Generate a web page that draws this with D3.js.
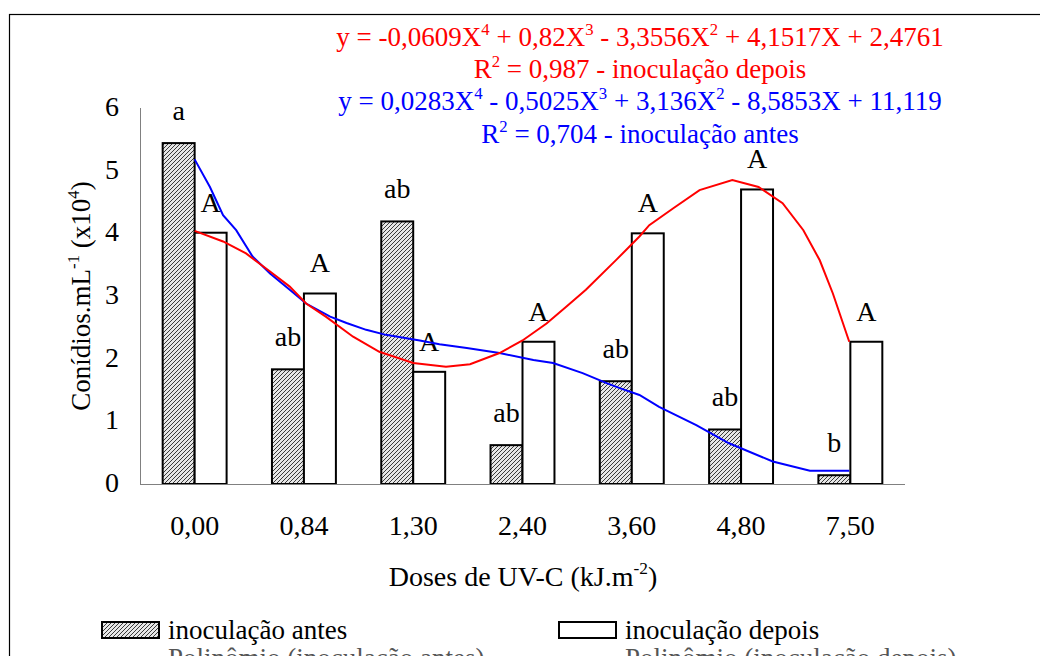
<!DOCTYPE html>
<html>
<head>
<meta charset="utf-8">
<script src="https://cdn.jsdelivr.net/npm/d3@7"></script>
<style>
	body { margin: 0; background: #fff; }
	svg text { font-family: "Liberation Serif", "Times New Roman", serif; }
</style>
</head>
<body>
<svg id="chart" width="1040" height="656"></svg>
<script>
'use strict';

var doses    = ['0,00', '0,84', '1,30', '2,40', '3,60', '4,80', '7,50'];
var antes    = [5.44, 1.83, 4.19, 0.62, 1.64, 0.87, 0.14];
var depois   = [4.01, 3.04, 1.79, 2.27, 4.00, 4.70, 2.27];
var letrasA  = ['a', 'ab', 'ab', 'ab', 'ab', 'ab', 'b'];
var letrasD  = ['A', 'A', 'A', 'A', 'A', 'A', 'A'];
var yTicks   = [0, 1, 2, 3, 4, 5, 6];

// trend lines: [category position, value]
var trendDepois = [
	[0.00, 4.04], [0.26, 3.87], [0.47, 3.68], [0.69, 3.39], [0.87, 3.15],
	[1.02, 2.88], [1.20, 2.67], [1.45, 2.35], [1.69, 2.11], [2.00, 1.93],
	[2.30, 1.87], [2.52, 1.91], [2.79, 2.09], [3.00, 2.29], [3.22, 2.56],
	[3.40, 2.83], [3.58, 3.10], [3.86, 3.58], [4.07, 3.95], [4.16, 4.13],
	[4.38, 4.40], [4.62, 4.69], [4.92, 4.85], [5.16, 4.74], [5.38, 4.48],
	[5.57, 4.05], [5.72, 3.57], [5.84, 3.04], [5.99, 2.27]
];
var trendAntes = [
	[0.00, 5.18], [0.14, 4.74], [0.26, 4.29], [0.38, 4.05], [0.53, 3.63],
	[0.69, 3.36], [0.87, 3.10], [1.02, 2.88], [1.24, 2.67], [1.39, 2.57],
	[1.57, 2.46], [1.75, 2.38], [2.06, 2.29], [2.24, 2.23], [2.49, 2.17],
	[2.79, 2.09], [3.10, 1.98], [3.28, 1.93], [3.55, 1.77], [3.77, 1.61],
	[3.89, 1.53], [4.07, 1.42], [4.25, 1.23], [4.59, 0.94], [4.89, 0.65],
	[5.29, 0.36], [5.63, 0.21], [5.99, 0.21]
];

var equations = [
	{ color: '#ff0000', parts: [['y = -0,0609X'], ['4', 1], [' + 0,82X'], ['3', 1], [' - 3,3556X'], ['2', 1], [' + 4,1517X + 2,4761']] },
	{ color: '#ff0000', parts: [['R'], ['2', 1], [' = 0,987 - inoculação depois']] },
	{ color: '#0000ff', parts: [['y = 0,0283X'], ['4', 1], [' - 0,5025X'], ['3', 1], [' + 3,136X'], ['2', 1], [' - 8,5853X + 11,119']] },
	{ color: '#0000ff', parts: [['R'], ['2', 1], [' = 0,704 - inoculação antes']] }
];

var svg = d3.select('#chart');
var FS  = 27;
var FSA = 28;

var x = d3.scaleBand()
	.domain(doses)
	.range([140, 905])
	.paddingInner(0.415)
	.paddingOuter(0.2075);

var half = x.bandwidth() / 2;

var xc = d3.scaleLinear()
	.domain([0, doses.length - 1])
	.range([x(doses[0]) + half, x(doses[doses.length - 1]) + half]);

var y = d3.scaleLinear()
	.domain([0, 6])
	.range([484, 108]);

function rich(sel, parts, fs) {
	fs = fs || FS;
	parts.forEach(function (p) {
		var t = sel.append('tspan').text(p[0]);
		if (p[1]) {
			t.attr('font-size', fs * 0.62).attr('dy', -fs * 0.42);
		} else if (sel.selectAll('tspan').size() > 1) {
			t.attr('dy', fs * 0.42);
		}
	});
	return sel;
}

// hatch pattern
var defs = svg.append('defs');
var pat = defs.append('pattern')
	.attr('id', 'hatch')
	.attr('patternUnits', 'userSpaceOnUse')
	.attr('width', 4)
	.attr('height', 4);
pat.append('rect').attr('width', 4).attr('height', 4).attr('fill', '#e6e6e6');
pat.append('path')
	.attr('d', 'M-1,1 l2,-2 M0,4 l4,-4 M3,5 l2,-2')
	.attr('stroke', '#3a3a3a')
	.attr('stroke-width', 1);

// outer frame
svg.append('rect')
	.attr('x', 9.5).attr('y', 14.5)
	.attr('width', 1100).attr('height', 800)
	.attr('fill', 'none')
	.attr('stroke', '#000')
	.attr('stroke-width', 1.2);

// axes
svg.append('line')
	.attr('x1', 140.5).attr('x2', 140.5)
	.attr('y1', y(6)).attr('y2', y(0))
	.attr('stroke', '#808080');

svg.selectAll('.ytick').data(yTicks).enter().append('text')
	.attr('class', 'ytick')
	.attr('x', 119)
	.attr('y', function (d) { return y(d) + 8; })
	.attr('text-anchor', 'end')
	.attr('font-size', FSA)
	.text(function (d) { return d; });

svg.selectAll('.xtick').data(doses).enter().append('text')
	.attr('class', 'xtick')
	.attr('x', function (d) { return x(d) + half; })
	.attr('y', 535)
	.attr('text-anchor', 'middle')
	.attr('font-size', FSA)
	.text(function (d) { return d; });

// bars
var bw = x.bandwidth() / 2;

svg.selectAll('.antes').data(antes).enter().append('rect')
	.attr('class', 'antes')
	.attr('x', function (d, i) { return x(doses[i]); })
	.attr('y', function (d) { return y(d); })
	.attr('width', bw)
	.attr('height', function (d) { return y(0) - y(d); })
	.attr('fill', 'url(#hatch)')
	.attr('stroke', '#000')
	.attr('stroke-width', 2);

svg.selectAll('.depois').data(depois).enter().append('rect')
	.attr('class', 'depois')
	.attr('x', function (d, i) { return x(doses[i]) + bw; })
	.attr('y', function (d) { return y(d); })
	.attr('width', bw)
	.attr('height', function (d) { return y(0) - y(d); })
	.attr('fill', '#fff')
	.attr('stroke', '#000')
	.attr('stroke-width', 2);

svg.append('line')
	.attr('x1', 140).attr('x2', 905)
	.attr('y1', y(0) + 0.5).attr('y2', y(0) + 0.5)
	.attr('stroke', '#808080');

// letters
svg.selectAll('.la').data(antes).enter().append('text')
	.attr('class', 'la')
	.attr('x', function (d, i) { return x(doses[i]) + bw / 2; })
	.attr('y', function (d) { return y(d) - 23; })
	.attr('text-anchor', 'middle')
	.attr('font-size', FSA)
	.text(function (d, i) { return letrasA[i]; });

svg.selectAll('.ld').data(depois).enter().append('text')
	.attr('class', 'ld')
	.attr('x', function (d, i) { return x(doses[i]) + bw * 1.5; })
	.attr('y', function (d) { return y(d) - 21; })
	.attr('text-anchor', 'middle')
	.attr('font-size', FSA)
	.text(function (d, i) { return letrasD[i]; });

// trend lines
var line = d3.line()
	.x(function (d) { return xc(d[0]); })
	.y(function (d) { return y(d[1]); });

svg.append('path')
	.datum(trendAntes)
	.attr('d', line)
	.attr('fill', 'none')
	.attr('stroke', '#0000ff')
	.attr('stroke-width', 2);

svg.append('path')
	.datum(trendDepois)
	.attr('d', line)
	.attr('fill', 'none')
	.attr('stroke', '#ff0000')
	.attr('stroke-width', 2);

// equations
var eqY = [46, 78, 110, 143];
equations.forEach(function (eq, i) {
	var t = svg.append('text')
		.attr('x', 640)
		.attr('y', eqY[i])
		.attr('text-anchor', 'middle')
		.attr('font-size', FS)
		.attr('fill', eq.color);
	rich(t, eq.parts);
});

// axis titles
rich(svg.append('text')
	.attr('x', 523)
	.attr('y', 586)
	.attr('text-anchor', 'middle')
	.attr('font-size', FSA), [['Doses de UV-C (kJ.m'], ['-2', 1], [')']], FSA);

rich(svg.append('text')
	.attr('transform', 'translate(90,296) rotate(-90)')
	.attr('text-anchor', 'middle')
	.attr('font-size', FS), [['Conídios.mL'], ['-1', 1], ['  (x10'], ['4', 1], [')']]);

// legend
var legend = [
	{ x: 102, label: 'inoculação antes', fill: 'url(#hatch)', sub: 'Polinômio (inoculação antes)' },
	{ x: 559, label: 'inoculação depois', fill: '#fff', sub: 'Polinômio (inoculação depois)' }
];

var lg = svg.selectAll('.legend').data(legend).enter().append('g')
	.attr('class', 'legend')
	.attr('transform', function (d) { return 'translate(' + d.x + ',0)'; });

lg.append('rect')
	.attr('x', 0).attr('y', 622)
	.attr('width', 57).attr('height', 16)
	.attr('fill', function (d) { return d.fill; })
	.attr('stroke', '#000')
	.attr('stroke-width', 2);

lg.append('text')
	.attr('x', 66).attr('y', 639)
	.attr('font-size', FS)
	.text(function (d) { return d.label; });

lg.append('text')
	.attr('x', 66).attr('y', 667)
	.attr('font-size', FS)
	.attr('fill', '#555')
	.text(function (d) { return d.sub; });
</script>
</body>
</html>
